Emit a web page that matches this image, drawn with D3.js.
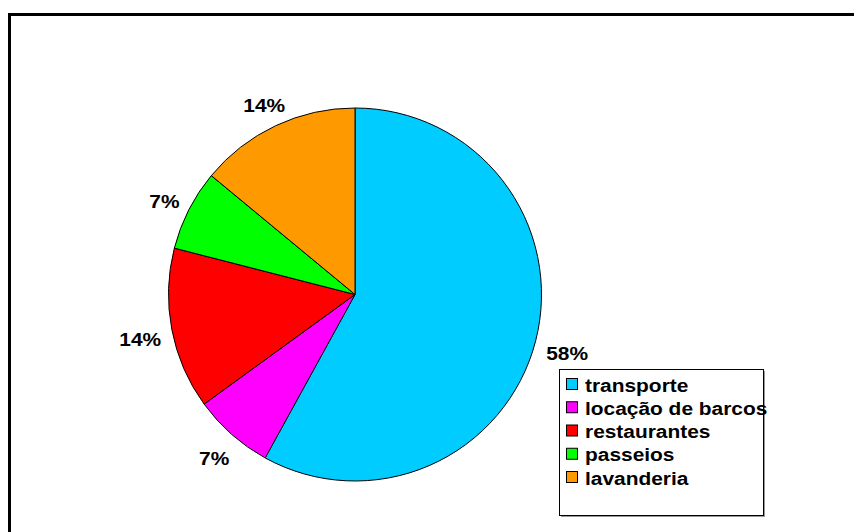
<!DOCTYPE html>
<html>
<head>
<meta charset="utf-8">
<script src="https://cdn.jsdelivr.net/npm/d3@7"></script>
<style>
  html, body { margin: 0; padding: 0; background: #fff; }
  svg { display: block; }
  text { font-family: "Liberation Sans", Arial, sans-serif; font-weight: bold; fill: #000; }
</style>
</head>
<body>
<svg id="chart" width="854" height="532"></svg>
<script>
// Expense categories and their shares (percent)
const categories = ["transporte", "locação de barcos", "restaurantes", "passeios", "lavanderia"];
const shares = [58, 7, 14, 7, 14];
const colors = ["#00CCFF", "#FF00FF", "#FF0000", "#00FF00", "#FF9900"];

const svg = d3.select("#chart");

// Chart area frame
svg.append("rect")
  .attr("x", 9.5).attr("y", 14.5)
  .attr("width", 2000).attr("height", 2000)
  .attr("fill", "none").attr("stroke", "#000").attr("stroke-width", 3);

const cx = 355, cy = 294.5, radius = 186.5;
const stretch = 1.1; // wide bold lettering

const data = categories.map((c, i) => ({ name: c, value: shares[i], color: colors[i] }));

const pie = d3.pie().value(d => d.value).sort(null);
const arcs = pie(data);
const arc = d3.arc().innerRadius(0).outerRadius(radius);

const g = svg.append("g").attr("transform", `translate(${cx},${cy})`);

g.selectAll("path.slice")
  .data(arcs)
  .enter().append("path")
  .attr("class", "slice")
  .attr("d", arc)
  .attr("fill", d => d.data.color)
  .attr("stroke", "#000")
  .attr("stroke-width", 1)
  .attr("stroke-linejoin", "round");

// Percentage labels outside each slice
const fmt = d => d3.format(".0f")(d) + "%";
arcs.forEach(a => {
  const mid = (a.startAngle + a.endAngle) / 2;
  const ux = Math.sin(mid), uy = -Math.cos(mid);
  const t = g.append("text")
    .attr("font-size", 19)
    .attr("text-anchor", "middle")
    .attr("dominant-baseline", "central")
    .text(fmt(a.data.value));
  const w = t.node().getBBox().width * stretch;
  const halfExt = Math.abs(ux) * w / 2 + Math.abs(uy) * 17 / 2;
  const dist = radius + halfExt + 10;
  t.attr("transform", `translate(${ux * dist},${uy * dist + 4}) scale(${stretch},1)`);
});

// Legend
const lgX = 559, lgY = 369, lgW = 204, lgH = 146;
const legend = svg.append("g");
legend.append("rect")
  .attr("x", lgX + 2).attr("y", lgY + 2)
  .attr("width", lgW).attr("height", lgH)
  .attr("fill", "#999");
legend.append("rect")
  .attr("x", lgX + 0.5).attr("y", lgY + 0.5)
  .attr("width", lgW).attr("height", lgH)
  .attr("fill", "#fff").attr("stroke", "#000").attr("stroke-width", 1);

const rowY = d3.scalePoint().domain(categories).range([384, 477]);

const items = legend.selectAll("g.item")
  .data(data)
  .enter().append("g")
  .attr("class", "item")
  .attr("transform", d => `translate(0,${rowY(d.name)})`);

items.append("rect")
  .attr("x", 566.5).attr("y", -5.5)
  .attr("width", 11).attr("height", 11)
  .attr("fill", d => d.color)
  .attr("stroke", "#000").attr("stroke-width", 1);

items.append("text")
  .attr("transform", `translate(585,1) scale(${stretch},1)`)
  .attr("dominant-baseline", "central")
  .attr("font-size", 19)
  .text(d => d.name);
</script>
</body>
</html>
